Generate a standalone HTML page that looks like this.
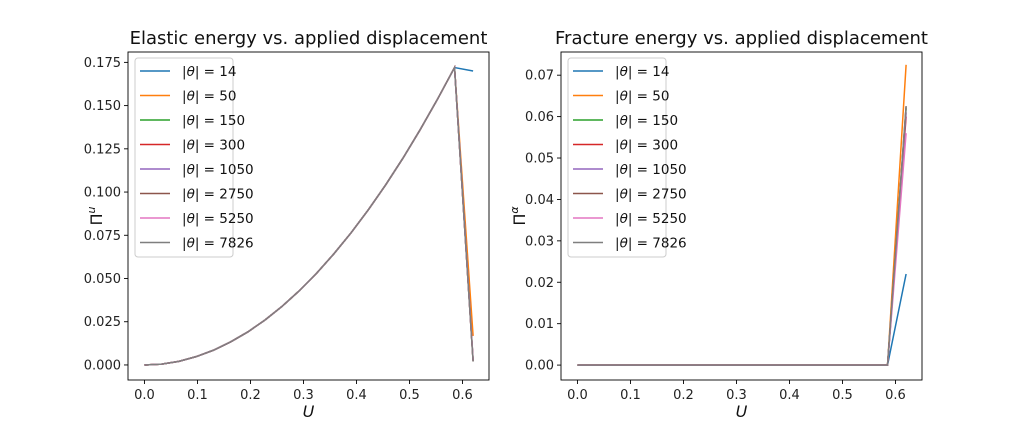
<!DOCTYPE html>
<html><head><meta charset="utf-8"><style>
body{margin:0;background:#fff;}
svg{display:block;font-family:"DejaVu Sans","Liberation Sans",sans-serif;}
</style></head><body>
<svg id="fig" width="1024" height="427" viewBox="0 0 1024 427" xmlns="http://www.w3.org/2000/svg"></svg>
<script>
const labels = ["14","50","150","300","1050","2750","5250","7826"];
const colors = ["#1f77b4","#ff7f0e","#2ca02c","#d62728","#9467bd","#8c564b","#e377c2","#7f7f7f"];
const U = [0,0.0325,0.065,0.0975,0.13,0.1625,0.195,0.2275,0.26,0.2925,0.325,0.3575,0.39,0.4225,0.455,0.4875,0.52,0.5525,0.585,0.62];
const elasticBase = [0,0.0005,0.0021,0.0048,0.0085,0.0133,0.0191,0.026,0.034,0.043,0.0531,0.0643,0.0765,0.0898,0.1041,0.1195,0.136,0.1535,0.172];
const elasticEnd = [0.170,0.0168,0.003,0.0025,0.0025,0.002,0.003,0.002];
const fractureEnd = [0.022,0.0725,0.062,0.060,0.061,0.0625,0.056,0.0625];
const xTicks = [0,0.1,0.2,0.3,0.4,0.5,0.6];
const yTicksL = [0,0.025,0.05,0.075,0.1,0.125,0.15,0.175];
const yTicksR = [0,0.01,0.02,0.03,0.04,0.05,0.06,0.07];

const NS="http://www.w3.org/2000/svg";
const svg=document.getElementById('fig');
function mk(tag,attrs,parent){const e=document.createElementNS(NS,tag);for(const k in attrs)e.setAttribute(k,attrs[k]);(parent||svg).appendChild(e);return e;}

function panel(opt){
  const g=mk('g',{});
  
  
  const L=opt.left,R=opt.right,T=52,B=380;
  const xmin=-0.031,xmax=0.65;
  const sx=v=>L+(v-xmin)/(xmax-xmin)*(R-L);
  const sy=v=>B-(v-opt.ymin)/(opt.ymax-opt.ymin)*(B-T);
  // series
  for(let i=0;i<labels.length;i++){
    const vals=opt.series(i);
    const pts=vals.map((v,j)=>sx(U[j]).toFixed(2)+","+sy(v).toFixed(2)).join(" ");
    const pl=mk('polyline',{points:pts,fill:'none',stroke:colors[i],'stroke-width':1.5},g);
    
    
  }
  const fr=mk('rect',{x:L,y:T,width:R-L,height:B-T,fill:'none',stroke:'#000','stroke-width':0.9},g);
  
  
  xTicks.forEach(v=>{
    const x=sx(v);
    mk('line',{x1:x,x2:x,y1:B,y2:B+4,stroke:'#000','stroke-width':0.9},g);
    const t=mk('text',{x:x,y:B+19,'text-anchor':'middle','font-size':13,fill:'#222'},g);
    t.textContent=v.toFixed(1);
    
    
  });
  opt.yTicks.forEach(v=>{
    const y=sy(v);
    mk('line',{x1:L-4,x2:L,y1:y,y2:y,stroke:'#000','stroke-width':0.9},g);
    const t=mk('text',{x:L-7,y:y+4.5,'text-anchor':'end','font-size':13,fill:'#222'},g);
    t.textContent=v.toFixed(opt.dec);
    
    
  });
  const ti=mk('text',{x:(L+R)/2,y:44,'text-anchor':'middle','font-size':18,fill:'#111'},g);
  ti.textContent=opt.title;
  
  
  const xl=mk('text',{x:(L+R)/2,y:417,'text-anchor':'middle','font-size':16,'font-style':'italic',fill:'#111'},g);
  xl.textContent='U';
  
  
  const yx=opt.ylabX,yy=(T+B)/2;
  const yl=mk('text',{x:yx,y:yy,'text-anchor':'middle','font-size':16,fill:'#111',transform:`rotate(-90 ${yx} ${yy})`},g);
  yl.innerHTML='Π<tspan font-size="11" dy="-7" font-style="italic">'+opt.sup+'</tspan>';
  
  
  // legend
  const lg=mk('g',{},g);
  
  
  const lx=L+7;
  mk('rect',{x:lx,y:58,width:98,height:199,rx:3,fill:'#fff','fill-opacity':0.85,stroke:'#ccc','stroke-width':1},lg);
  labels.forEach((lab,i)=>{
    const y=71+i*24.5;
    const e=mk('g',{},lg);
    
    
    mk('line',{x1:lx+5,x2:lx+35,y1:y,y2:y,stroke:colors[i],'stroke-width':1.5},e);
    const t=mk('text',{x:lx+47,y:y+5,'font-size':13.5,fill:'#111'},e);
    t.innerHTML='|<tspan font-style="italic">θ</tspan>| = '+lab;
  });
}

panel({name:'elastic-energy-chart',left:128,right:489,ymin:-0.0087,ymax:0.181,yTicks:yTicksL,dec:3,
  title:'Elastic energy vs. applied displacement',sup:'u',ylabX:102,
  series:i=>elasticBase.concat([elasticEnd[i]])});
panel({name:'fracture-energy-chart',left:561,right:922,ymin:-0.0036,ymax:0.0756,yTicks:yTicksR,dec:2,
  title:'Fracture energy vs. applied displacement',sup:'α',ylabX:525,
  series:i=>elasticBase.map(()=>0).concat([fractureEnd[i]])});
</script>
</body></html>
